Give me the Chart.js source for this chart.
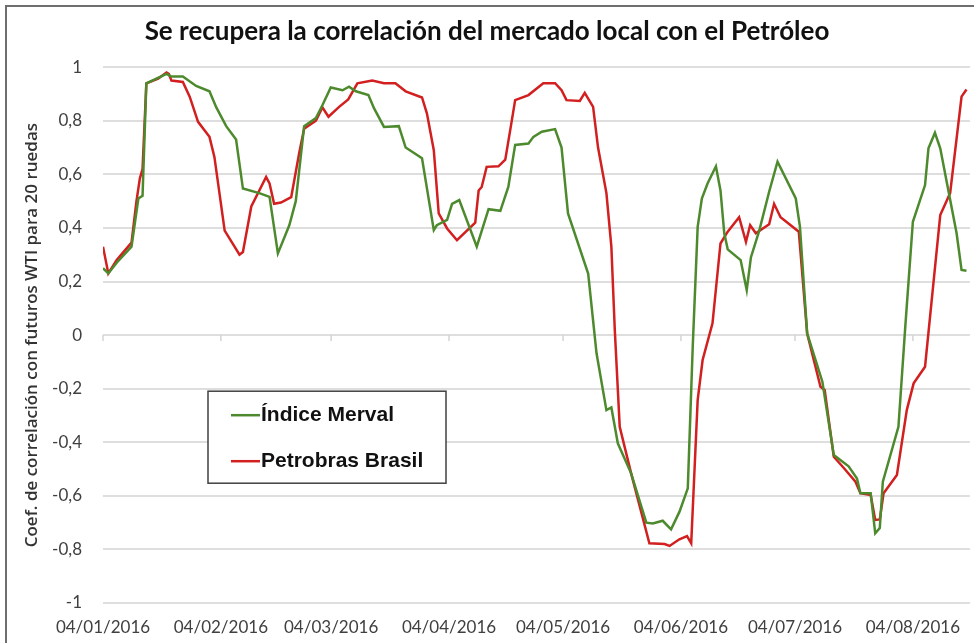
<!DOCTYPE html>
<html>
<head>
<meta charset="utf-8">
<script src="https://cdn.jsdelivr.net/npm/chart.js@4.4.0/dist/chart.umd.min.js"></script>
<style>
  html, body { margin: 0; padding: 0; background: #fff; }
  #wrap { width: 974px; height: 643px; }
</style>
</head>
<body>
<div id="wrap"><canvas id="myChart" width="974" height="643"></canvas></div>
<script>
// days counted from 04/01/2016
var monthDays = [0, 31, 60, 91, 121, 152, 182, 213];
var monthLabels = ['04/01/2016', '04/02/2016', '04/03/2016', '04/04/2016', '04/05/2016', '04/06/2016', '04/07/2016', '04/08/2016'];

var mervalDays = [0, 1.4, 3.6, 7.5, 9.3, 10.4, 11.4, 16.7, 18, 21, 24.5, 28, 29.8, 32.4, 35, 36.8, 41.1, 43.8, 46, 49, 50.7, 52.9,
  56, 57.7, 59.9, 63, 64.7, 66.5, 69.8, 71.3, 73.9, 77.8, 79.6, 83.9, 87, 87.8, 90.5, 91.8, 93.7, 98.3, 101.4, 104.5, 106.6, 108.4,
  111.9, 113.2, 115.4, 118.9, 120.6, 122.3, 127.6, 129.8, 132.4, 133.7, 135.4, 138.9, 142.9, 144.6, 147.2, 149.4, 151.6, 153.8,
  155.1, 156.4, 157.5, 159, 161.2, 162.4, 163.4, 164.3, 167.7, 169.3, 170.4, 172.6, 175.2, 177.4, 182.2, 183.3, 185.2, 189.2,
  192.2, 196.1, 198.3, 199.2, 201.9, 203.1, 204.3, 205.1, 209.2, 211, 213, 216.2, 217.1, 218.8, 220.2, 224.5, 225.8, 227.1];
var mervalValues = [0.25, 0.23, 0.27, 0.33, 0.51, 0.52, 0.94, 0.975, 0.965, 0.965, 0.93, 0.91, 0.85, 0.78, 0.73, 0.547, 0.53, 0.516, 0.305, 0.41, 0.50, 0.78,
  0.81, 0.858, 0.924, 0.914, 0.927, 0.91, 0.896, 0.846, 0.777, 0.78, 0.70, 0.66, 0.392, 0.41, 0.43, 0.49, 0.504, 0.33, 0.47, 0.464, 0.553, 0.71,
  0.715, 0.74, 0.759, 0.769, 0.70, 0.454, 0.23, -0.068, -0.28, -0.27, -0.404, -0.516, -0.70, -0.703, -0.693, -0.725, -0.66, -0.572,
  -0.044, 0.404, 0.51, 0.566, 0.63, 0.54, 0.38, 0.32, 0.28, 0.168, 0.29, 0.39, 0.535, 0.647, 0.51, 0.404, 0.006, -0.174,
  -0.448, -0.49, -0.535, -0.59, -0.59, -0.74, -0.72, -0.547, -0.342, 0.031, 0.423, 0.56, 0.697, 0.755, 0.697, 0.38, 0.243, 0.24];

var petroDays = [0, 1.4, 3.6, 7.5, 8.8, 9.7, 10.4, 11.4, 14.5, 16.7, 17.3, 18, 21, 22.8, 25, 28, 29.3, 32, 35.9, 36.8, 39, 42.9, 43.8, 45,
  46.8, 49.5, 51.6, 52.9, 56, 57.7, 59.3, 62.1, 64.5, 66.9, 70.8, 73.9, 76.9, 79.6, 83.9, 85.2, 87, 88.3, 90.5, 93.1, 97.9, 98.8,
  99.6, 100.9, 104, 105.8, 107.1, 108.4, 111.9, 115.8, 118.9, 120.6, 121.9, 125.4, 126.7, 128.9, 130.2, 132.4, 133.7, 134.6, 135.9,
  138.9, 143.7, 147.7, 149, 151.6, 153.6, 154.7, 156.4, 157.7, 160.3, 162.4, 164.3, 167.3, 169.1, 170.2, 171.7, 175.2, 176.5, 178.2,
  183, 185.2, 188.7, 189.8, 192.2, 194.9, 197.9, 199.2, 201.9, 203.1, 204.3, 205.3, 208.8, 211.4, 213.2, 216.2, 220.2, 222.8, 225.8, 227.1];
var petroValues = [0.33, 0.23, 0.28, 0.345, 0.50, 0.585, 0.62, 0.94, 0.957, 0.98, 0.975, 0.95, 0.945, 0.89, 0.796, 0.74, 0.665, 0.39, 0.30, 0.31, 0.48, 0.59, 0.566, 0.49,
  0.495, 0.515, 0.68, 0.77, 0.80, 0.85, 0.815, 0.852, 0.88, 0.94, 0.95, 0.94, 0.94, 0.91, 0.887, 0.827, 0.69, 0.454, 0.398, 0.354, 0.42, 0.54,
  0.553, 0.628, 0.63, 0.655, 0.765, 0.877, 0.896, 0.94, 0.94, 0.914, 0.877, 0.874, 0.904, 0.852, 0.70, 0.53, 0.33, 0.02, -0.342,
  -0.516, -0.777, -0.78, -0.787, -0.762, -0.75, -0.777, -0.243, -0.093, 0.044, 0.342, 0.386, 0.44, 0.348, 0.41, 0.38, 0.414, 0.49, 0.44,
  0.386, 0.006, -0.193, -0.205, -0.454, -0.497, -0.547, -0.59, -0.597, -0.69, -0.688, -0.59, -0.522, -0.28, -0.18, -0.118, 0.448, 0.53, 0.89, 0.917];

function toPoints(days, values) {
  return days.map(function (d, i) { return { x: d, y: values[i] }; });
}

function fmt(v) {
  var n = Number(v.toFixed(1));
  if (n === 0) n = 0;
  return String(n).replace('.', ',');
}

// outer frame (top and left edges only, the rest is cut off)
var framePlugin = {
  id: 'frame',
  beforeDraw: function (chart) {
    var c = chart.ctx;
    c.save();
    c.strokeStyle = '#6e6e6e';
    c.lineWidth = 2;
    c.beginPath();
    c.moveTo(6, chart.height);
    c.lineTo(6, 6);
    c.lineTo(chart.width, 6);
    c.stroke();
    c.restore();
  }
};

// small tick marks on the zero line at each month
var zeroTicksPlugin = {
  id: 'zeroTicks',
  afterDatasetsDraw: function (chart) {
    var x = chart.scales.x, y = chart.scales.y, c = chart.ctx;
    var y0 = y.getPixelForValue(0);
    c.save();
    c.strokeStyle = '#d4d4d4';
    c.lineWidth = 1.5;
    monthDays.forEach(function (d) {
      var px = x.getPixelForValue(d);
      c.beginPath();
      c.moveTo(px, y0);
      c.lineTo(px, y0 + 6);
      c.stroke();
    });
    c.restore();
  }
};

// boxed legend inside the plot
var boxLegendPlugin = {
  id: 'boxLegend',
  afterDraw: function (chart) {
    var a = chart.chartArea, c = chart.ctx;
    var bx = a.left + 105, by = a.top + 324, bw = 238, bh = 92;
    c.save();
    c.fillStyle = '#ffffff';
    c.fillRect(bx, by, bw, bh);
    c.strokeStyle = '#404040';
    c.lineWidth = 1.5;
    c.strokeRect(bx, by, bw, bh);
    c.font = 'bold 21px "Liberation Sans", Arial, sans-serif';
    c.textBaseline = 'middle';
    chart.data.datasets.forEach(function (ds, i) {
      var ly = by + 24 + i * 46;
      c.strokeStyle = ds.borderColor;
      c.lineWidth = 2.5;
      c.beginPath();
      c.moveTo(bx + 23, ly);
      c.lineTo(bx + 52, ly);
      c.stroke();
      c.fillStyle = '#111111';
      c.fillText(ds.label, bx + 53, ly);
    });
    c.restore();
  }
};

var ctx = document.getElementById('myChart').getContext('2d');
var myChart = new Chart(ctx, {
  type: 'line',
  data: {
    datasets: [{
      label: 'Índice Merval',
      data: toPoints(mervalDays, mervalValues),
      borderColor: '#4d8a2e',
      borderWidth: 2.5,
      pointRadius: 0,
      tension: 0
    }, {
      label: 'Petrobras Brasil',
      data: toPoints(petroDays, petroValues),
      borderColor: '#d21f1f',
      borderWidth: 2.5,
      pointRadius: 0,
      tension: 0
    }]
  },
  options: {
    responsive: false,
    animation: false,
    layout: { padding: { left: 0, right: 0, top: 0, bottom: 0 } },
    plugins: {
      legend: { display: false },
      tooltip: { enabled: false },
      title: {
        display: true,
        text: 'Se recupera la correlación del mercado local con el Petróleo',
        color: '#111111',
        font: { family: 'Lato', size: 26, weight: 'bold' },
        padding: { top: 16, bottom: 20 }
      }
    },
    scales: {
      x: {
        type: 'linear',
        min: 0,
        max: 228,
        grid: { display: false, drawTicks: false },
        border: { display: false },
        afterBuildTicks: function (scale) {
          scale.ticks = monthDays.map(function (d) { return { value: d }; });
        },
        afterFit: function (scale) { scale.height = 40; },
        ticks: {
          autoSkip: false,
          maxRotation: 0,
          padding: 14,
          color: '#404040',
          font: { family: 'Lato', size: 17 },
          callback: function (v) {
            var i = monthDays.indexOf(v);
            return i >= 0 ? monthLabels[i] : '';
          }
        }
      },
      y: {
        min: -1,
        max: 1,
        grid: { color: '#dedede', lineWidth: 2, drawTicks: false },
        border: { display: false },
        afterFit: function (scale) { scale.width = 103; },
        ticks: {
          stepSize: 0.2,
          padding: 21,
          color: '#404040',
          font: { family: 'Lato', size: 17 },
          callback: function (v) { return fmt(v); }
        },
        title: {
          display: true,
          text: 'Coef. de correlación con futuros WTI para 20 ruedas',
          color: '#333333',
          font: { family: 'Open Sans', size: 17, weight: '600' },
          padding: { top: 22, bottom: 0 }
        }
      }
    }
  },
  plugins: [framePlugin, zeroTicksPlugin, boxLegendPlugin]
});
</script>
</body>
</html>
